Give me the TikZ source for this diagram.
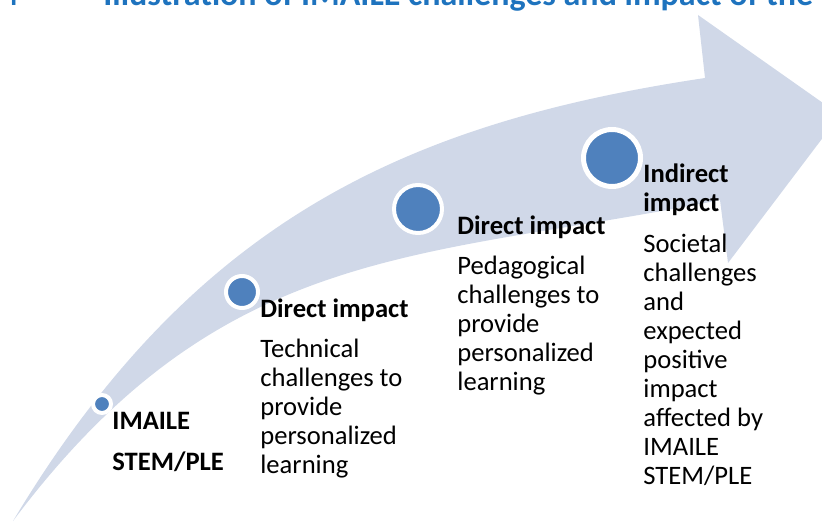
\documentclass[tikz,border=0pt]{standalone}
\usepackage{fontspec}
\setmainfont{Carlito}
\usetikzlibrary{positioning}
\definecolor{bandfill}{RGB}{208,216,232}
\definecolor{dotblue}{RGB}{79,129,189}
\definecolor{titleblue}{RGB}{30,115,190}
\tikzstyle{band} = [fill=bandfill, draw=none]
\tikzstyle{dot} = [circle, fill=dotblue, draw=white, inner sep=0pt]
\tikzstyle{stage} = [anchor=north west, inner sep=0pt, align=left, font=\fontsize{13.3}{14.75}\selectfont\bfseries]
\tikzstyle{detail} = [anchor=north west, inner sep=0pt, align=left, font=\fontsize{13.3}{14.5}\selectfont]
\tikzstyle{caption} = [anchor=base west, inner sep=0pt, text=titleblue, font=\fontsize{17}{20}\selectfont\bfseries]

\begin{document}
\begin{tikzpicture}[x=0.5pt, y=-0.5pt]
		\useasboundingbox (0,0) rectangle (822,522);
		\clip (0,0) rectangle (822,522);
		% caption line, mostly above the page
		\node (fignum) [caption, anchor=base east] at (19,6) {Figure 4};
		\node (title) [caption] at (103,6) {Illustration of IMAILE challenges and impact of the IMAILE};
		% the rising arrow
		\fill [band] (13,521) .. controls (193,221) and (405,123) .. (705,78)
			-- (698,15) -- (840,115) -- (728,263) -- (720,200)
			.. controls (420,260) and (223,241) .. (13,521) -- cycle;
		% stage markers
		\node (dot1) [dot, minimum size=9pt, line width=2pt] at (102,404) {};
		\node (dot2) [dot, minimum size=16pt, line width=2pt] at (242,292) {};
		\node (dot3) [dot, minimum size=24pt, line width=2pt] at (418,209) {};
		\node (dot4) [dot, minimum size=28.5pt, line width=2.5pt] at (612,158) {};
		% stage texts
		\node (start) [stage, font=\fontsize{13.3}{20.5}\selectfont\bfseries] at (112,412) {IMAILE\\STEM/PLE};
		\node (tech) [stage] at (260,298) {Direct impact};
		\node (techtxt) [detail] at (260,339) {Technical\\challenges to\\provide\\personalized\\learning};
		\node (peda) [stage] at (457,215) {Direct impact};
		\node (pedatxt) [detail] at (457,256) {Pedagogical\\challenges to\\provide\\personalized\\learning};
		\node (soc) [stage] at (643,163) {Indirect\\impact};
		\node (soctxt) [detail] at (643,234) {Societal\\challenges\\and\\expected\\positive\\impact\\affected by\\IMAILE\\STEM/PLE};
	\end{tikzpicture}
\end{document}
